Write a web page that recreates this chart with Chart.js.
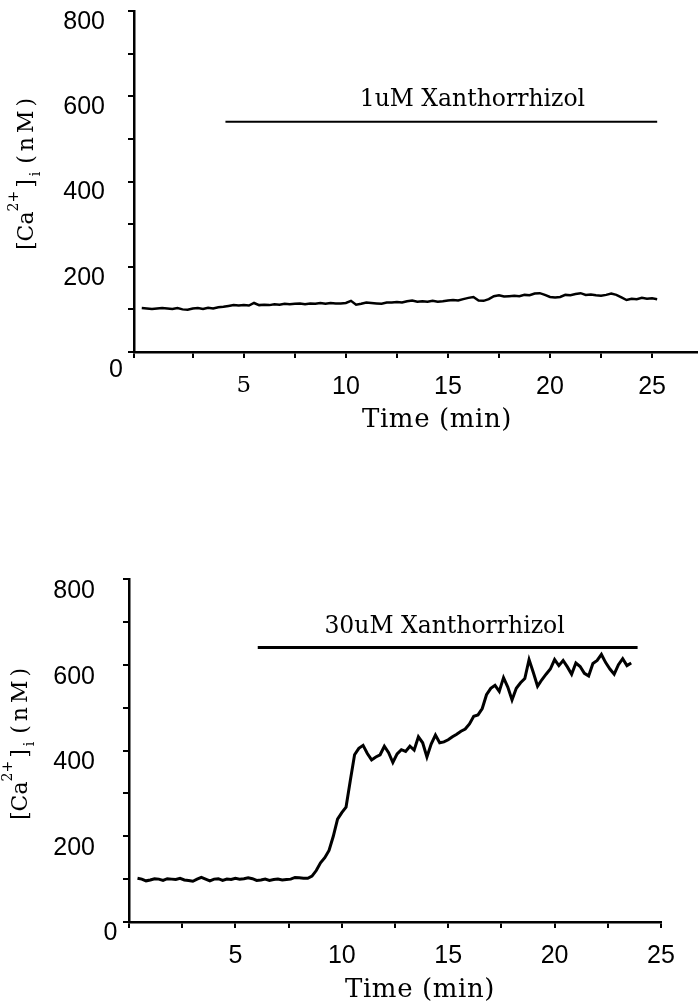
<!DOCTYPE html>
<html>
<head>
<meta charset="utf-8">
<script src="https://cdn.jsdelivr.net/npm/chart.js@4.4.1/dist/chart.umd.min.js"></script>
<style>
  body { margin: 0; background: #fff; width: 698px; height: 1004px; overflow: hidden; position: relative; }
  canvas { position: absolute; left: 0; }
</style>
</head>
<body>
<canvas id="chart1" width="698" height="480" style="top:0"></canvas>
<canvas id="chart2" width="698" height="464" style="top:540px"></canvas>
<script>
// panel 1 : 1uM Xanthorrhizol
const time1 = [
  0, 0.25, 0.5, 0.75, 1, 1.25, 1.5, 1.75, 2, 2.25, 2.5,
  2.75, 3, 3.25, 3.5, 3.75, 4, 4.25, 4.5, 4.75, 5,
  5.25, 5.5, 5.75, 6, 6.25, 6.5, 6.75, 7, 7.25, 7.5,
  7.75, 8, 8.25, 8.5, 8.75, 9, 9.25, 9.5, 9.75, 10,
  10.25, 10.5, 10.75, 11, 11.25, 11.5, 11.75, 12, 12.25, 12.5,
  12.75, 13, 13.25, 13.5, 13.75, 14, 14.25, 14.5, 14.75, 15,
  15.25, 15.5, 15.75, 16, 16.25, 16.5, 16.75, 17, 17.25, 17.5,
  17.75, 18, 18.25, 18.5, 18.75, 19, 19.25, 19.5, 19.75, 20,
  20.25, 20.5, 20.75, 21, 21.25, 21.5, 21.75, 22, 22.25, 22.5,
  22.75, 23, 23.25, 23.5, 23.75, 24, 24.25, 24.5, 24.75, 25,
  25.25
];
const calcium1 = [
  103, 102, 101, 102, 103, 102, 101, 103, 100, 99, 102,
  103, 101, 104, 102, 105, 106, 108, 110, 109, 110,
  109, 115, 110, 111, 110, 112, 111, 113, 112, 113,
  114, 112, 114, 113, 115, 113, 115, 114, 114, 115,
  120, 111, 113, 116, 115, 114, 113, 116, 116, 117,
  116, 119, 121, 118, 119, 118, 120, 118, 119, 121,
  122, 121, 124, 127, 129, 121, 120, 124, 131, 133,
  130, 131, 132, 131, 134, 133, 137, 138, 134, 129,
  128, 129, 134, 133, 136, 138, 134, 135, 133, 132,
  134, 137, 134, 128, 122, 125, 124, 127, 125, 126,
  124
];
const drug1X = [4.1, 25.25];
const drug1Y = [540, 540];
const drug1Label = '1uM Xanthorrhizol';
const drug1LabelAt = [16.2, 577];
const xRange1 = [-0.38, 27.25];

// panel 2 : 30uM Xanthorrhizol
const time2 = [
  0.4, 0.6, 0.8, 1.0, 1.2, 1.4, 1.6, 1.8, 2.0, 2.2,
  2.4, 2.6, 2.8, 3.0, 3.2, 3.4, 3.6, 3.8, 4.0, 4.2,
  4.4, 4.6, 4.8, 5.0, 5.2, 5.4, 5.6, 5.8, 6.0, 6.2,
  6.4, 6.6, 6.8, 7.0, 7.2, 7.4, 7.6, 7.8, 8.0, 8.2,
  8.4, 8.6, 8.8, 9.0, 9.2, 9.4, 9.6, 9.8, 10.0, 10.2,
  10.4, 10.6, 10.8, 11.0, 11.2, 11.4, 11.6, 11.8, 12.0, 12.2,
  12.4, 12.6, 12.8, 13.0, 13.2, 13.4, 13.6, 13.8, 14.0, 14.2,
  14.4, 14.6, 14.8, 15.0, 15.2, 15.4, 15.6, 15.8, 16.0, 16.2,
  16.4, 16.6, 16.8, 17.0, 17.2, 17.4, 17.6, 17.8, 18.0, 18.2,
  18.4, 18.6, 18.8, 19.0, 19.2, 19.4, 19.6, 19.8, 20.0, 20.2,
  20.4, 20.6, 20.8, 21.0, 21.2, 21.4, 21.6, 21.8, 22.0, 22.2,
  22.4, 22.6, 22.8, 23.0, 23.2, 23.4, 23.6
];
const calcium2 = [
  102, 100, 96, 98, 101, 100, 97, 101, 100, 99,
  102, 98, 97, 95, 100, 104, 100, 96, 100, 101,
  97, 100, 99, 102, 100, 101, 103, 101, 97, 98,
  100, 97, 99, 100, 98, 99, 100, 104, 103, 102,
  102, 107, 120, 138, 150, 167, 200, 240, 255, 268,
  330, 390, 405, 412, 393, 378, 385, 390, 410, 395,
  372, 392, 402, 398, 410, 401, 432, 418, 385, 415,
  436, 418, 420, 425, 432, 438, 445, 450, 462, 480,
  483, 498, 530, 545, 552, 538, 570, 548, 518, 545,
  558, 568, 612, 582, 550, 565, 578, 590, 612, 598,
  610, 595, 578, 604, 596, 580, 574, 603, 610, 624,
  605, 590, 578, 600, 614, 598, 604
];
const drug2X = [6.05, 23.9];
const drug2Y = [640, 640];
const drug2Label = '30uM Xanthorrhizol';
const drug2LabelAt = [14.83, 674];
const xRange2 = [0, 25];

const xTicks = [0, 2.5, 5, 7.5, 10, 12.5, 15, 17.5, 20, 22.5, 25];
const serifTicks1 = [5];   // in the top panel the "5" is set in a serif face
const yTicks = [0, 100, 200, 300, 400, 500, 600, 700, 800];

const SANS = 'Liberation Sans';
const SERIF = 'DejaVu Serif';

// text that chart.js can't place itself: drug label, axis titles with sub/superscript, the corner "0"
const deco = {
  id: 'deco',
  afterDraw(chart, args, o) {
    const { ctx, chartArea: a, scales: { x, y } } = chart;
    ctx.save();
    ctx.fillStyle = '#000';

    ctx.font = '23.5px "' + SERIF + '"';
    ctx.textAlign = 'center';
    ctx.textBaseline = 'alphabetic';
    ctx.fillText(o.note, x.getPixelForValue(o.noteAt[0]), y.getPixelForValue(o.noteAt[1]));

    ctx.font = '26px "' + SERIF + '"';
    ctx.letterSpacing = '0.6px';
    ctx.fillText('Time (min)', o.xTitle[0], o.xTitle[1]);
    ctx.letterSpacing = '0px';

    ctx.font = '25px "' + SANS + '"';
    ctx.textAlign = 'right';
    ctx.textBaseline = 'middle';
    ctx.fillText('0', a.left + o.zero[0], y.getPixelForValue(0) + o.zero[1]);

    // [Ca2+]i (nM), rotated
    ctx.translate(o.yTitle[0], o.yTitle[1]);
    ctx.rotate(-Math.PI / 2);
    ctx.textAlign = 'left';
    ctx.textBaseline = 'alphabetic';
    let pos = 0;
    const parts = [
      ['[Ca', 22, 0, 0, 0],
      ['2+', 14, -15, 0, 0],
      [']', 22, 0, 3, 0],
      ['i', 14, 7, 3, 0],
      ['(nM)', 22, 0, 8, 4]
    ];
    parts.forEach(([t, size, dy, gap, ls]) => {
      ctx.font = size + 'px "' + SERIF + '"';
      ctx.letterSpacing = ls + 'px';
      pos += gap;
      ctx.fillText(t, pos, dy);
      pos += ctx.measureText(t).width;
    });
    ctx.restore();
  }
};

function makePanel(id, p) {
  const ctx = document.getElementById(id).getContext('2d');
  return new Chart(ctx, {
    type: 'line',
    data: {
      datasets: [{
        data: p.time.map((t, i) => ({ x: t, y: p.values[i] })),
        borderColor: '#000',
        borderWidth: p.traceWidth,
        pointRadius: 0,
        tension: 0,
        fill: false
      }, {
        data: p.drugX.map((t, i) => ({ x: t, y: p.drugY[i] })),
        borderColor: '#000',
        borderWidth: p.drugWidth,
        pointRadius: 0,
        fill: false
      }]
    },
    options: {
      responsive: false,
      animation: false,
      events: [],
      layout: { padding: { top: p.top, left: 0, right: p.right, bottom: 0 } },
      plugins: {
        legend: { display: false },
        tooltip: { enabled: false },
        deco: {
          note: p.note, noteAt: p.noteAt,
          xTitle: p.xTitle, yTitle: p.yTitle, zero: p.zero
        }
      },
      scales: {
        x: {
          type: 'linear',
          min: p.xRange[0],
          max: p.xRange[1],
          afterBuildTicks: s => {
            // the first tick always sits on the y axis
            const t = xTicks.filter(v => v > s.min + 0.5 && v <= s.max);
            t.unshift(s.min);
            s.ticks = t.map(v => ({ value: v }));
          },
          afterFit: s => {
            s.height = p.xHeight;
            s.paddingLeft = 0; s.paddingRight = 0;
          },
          ticks: {
            autoSkip: false,
            maxRotation: 0,
            minRotation: 0,
            padding: p.xPad,
            color: '#000',
            callback: v => (v > 0 && v % 5 === 0) ? String(v) : '',
            font: c => (c.tick && p.serifTicks.includes(c.tick.value))
              ? { family: SERIF, size: 23 }
              : { family: SANS, size: 25 }
          },
          grid: { drawOnChartArea: false, color: '#000', lineWidth: 2, tickLength: 6 },
          border: { color: '#000', width: 2.5 }
        },
        y: {
          type: 'linear',
          min: 0,
          max: 800,
          afterBuildTicks: s => { s.ticks = yTicks.map(v => ({ value: v })); },
          afterFit: s => {
            s.width = p.yWidth;
            s.paddingTop = 0; s.paddingBottom = 0;
          },
          ticks: {
            padding: p.yPad,
            labelOffset: p.yLabelOffset,
            color: '#000',
            font: { family: SANS, size: 25 },
            callback: v => (v > 0 && v % 200 === 0) ? String(v) : ''
          },
          grid: { drawOnChartArea: false, color: '#000', lineWidth: 2, tickLength: 6 },
          border: { color: '#000', width: 2.5 }
        }
      }
    },
    plugins: [deco]
  });
}

makePanel('chart1', {
  time: time1, values: calcium1, traceWidth: 2.5,
  drugX: drug1X, drugY: drug1Y, drugWidth: 2,
  note: drug1Label, noteAt: drug1LabelAt,
  xRange: xRange1, serifTicks: serifTicks1,
  top: 11, right: 0, xHeight: 128, yWidth: 134,
  xPad: 14, yPad: 23, yLabelOffset: 11,
  xTitle: [437, 427], yTitle: [33, 250], zero: [-11, 18]
});

makePanel('chart2', {
  time: time2, values: calcium2, traceWidth: 3,
  drugX: drug2X, drugY: drug2Y, drugWidth: 3,
  note: drug2Label, noteAt: drug2LabelAt,
  xRange: xRange2, serifTicks: [],
  top: 39, right: 37, xHeight: 82, yWidth: 129,
  xPad: 13, yPad: 28, yLabelOffset: 12,
  xTitle: [420, 457], yTitle: [27, 280], zero: [-11.7, 11.6]
});
</script>
</body>
</html>
